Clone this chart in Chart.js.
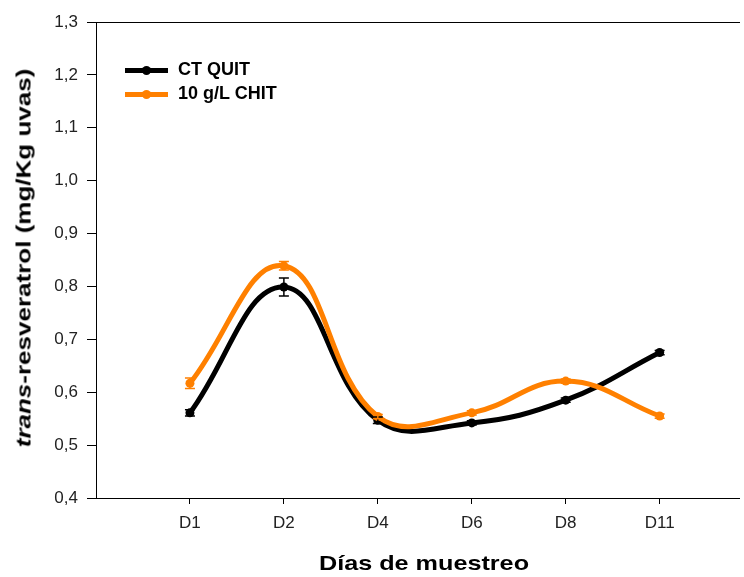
<!DOCTYPE html>
<html>
<head>
<meta charset="utf-8">
<script src="https://cdn.jsdelivr.net/npm/chart.js@4.4.1/dist/chart.umd.min.js"></script>
<style>
  body { margin: 0; background: #fff; }
  #wrap { position: relative; width: 744px; height: 577px; font-family: "Liberation Sans", Arial, sans-serif; }
  #chart { position: absolute; left: 0; top: 0; }
  .ytitle {
    position: absolute; left: 24px; top: 258px; white-space: nowrap;
    font-weight: bold; font-size: 20px; color: #000;
    transform: translate(-50%, -50%) rotate(-90deg) scaleX(1.3);
  }
  .xtitle {
    position: absolute; left: 424px; top: 563px; white-space: nowrap;
    font-weight: bold; font-size: 21px; color: #000;
    transform: translate(-50%, -50%) scaleX(1.2);
  }
  .legend { position: absolute; left: 125px; top: 58px; }
  .legend .row { position: relative; height: 24px; }
  .legend .ln { position: absolute; left: 0; top: 10px; width: 43px; height: 5px; }
  .legend .dot { position: absolute; left: 17px; top: 8px; width: 9px; height: 9px; border-radius: 50%; }
  .legend .lb { position: absolute; left: 53px; top: 1px; font-weight: bold; font-size: 18px; white-space: nowrap; }
</style>
</head>
<body>
<div id="wrap">
  <canvas id="chart" width="744" height="577"></canvas>
  <div class="ytitle"><i>trans</i>-resveratrol (mg/Kg uvas)</div>
  <div class="xtitle">Días de muestreo</div>
  <div class="legend" id="legend"></div>
</div>
<script>
// ── Data ──
const days = ['D1', 'D2', 'D4', 'D6', 'D8', 'D11'];
const dayPos = [1, 2, 3, 4, 5, 6];
const ctQuit = [0.561, 0.799, 0.547, 0.542, 0.585, 0.675];
const ctQuitErr = [0.006, 0.017, 0.006, 0.004, 0.004, 0.004];
const chit = [0.617, 0.839, 0.554, 0.561, 0.621, 0.555];
const chitErr = [0.010, 0.008, 0.004, 0.004, 0.004, 0.004];
const yTicks = [0.4, 0.5, 0.6, 0.7, 0.8, 0.9, 1.0, 1.1, 1.2, 1.3];

const BLACK = '#000000';
const ORANGE = '#ff8000';

const series = [
  { label: 'CT QUIT', values: ctQuit, err: ctQuitErr, color: BLACK, order: 2 },
  { label: '10 g/L CHIT', values: chit, err: chitErr, color: ORANGE, order: 1 },
];

// ── Legend (html) ──
document.getElementById('legend').innerHTML = series.map(s => `
  <div class="row">
    <div class="ln" style="background:${s.color}"></div>
    <div class="dot" style="background:${s.color}"></div>
    <div class="lb">${s.label}</div>
  </div>`).join('');

// ── Error bars ──
const errorBars = {
  id: 'errorBars',
  afterDatasetsDraw(chart) {
    const { ctx, scales: { x, y } } = chart;
    ctx.save();
    ctx.lineWidth = 1.5;
    chart.data.datasets.forEach(ds => {
      ctx.strokeStyle = ds.borderColor;
      ds.data.forEach((p, i) => {
        const px = x.getPixelForValue(p.x);
        const top = y.getPixelForValue(p.y + ds.err[i]);
        const bot = y.getPixelForValue(p.y - ds.err[i]);
        ctx.beginPath();
        ctx.moveTo(px, top); ctx.lineTo(px, bot);
        ctx.moveTo(px - 5, top); ctx.lineTo(px + 5, top);
        ctx.moveTo(px - 5, bot); ctx.lineTo(px + 5, bot);
        ctx.stroke();
      });
    });
    ctx.restore();
  }
};

Chart.defaults.font.family = '"Liberation Sans", Arial, sans-serif';
Chart.defaults.color = '#222';

new Chart(document.getElementById('chart'), {
  type: 'line',
  data: {
    datasets: series.map(s => ({
      label: s.label,
      data: s.values.map((v, i) => ({ x: dayPos[i], y: v })),
      err: s.err,
      borderColor: s.color,
      backgroundColor: s.color,
      borderWidth: 5,
      tension: 0.42,
      pointRadius: 4.5,
      pointHoverRadius: 4.5,
      pointBorderWidth: 0,
      order: s.order,
    }))
  },
  options: {
    responsive: false,
    animation: false,
    layout: { padding: { left: 0, right: 0, top: 22, bottom: 0 } },
    plugins: { legend: { display: false }, tooltip: { enabled: false } },
    scales: {
      x: {
        type: 'linear', min: 0, max: 6.85,
        afterBuildTicks: scale => { scale.ticks = dayPos.map(v => ({ value: v })); },
        afterFit: scale => { scale.height = 79; },
        ticks: { callback: v => days[dayPos.indexOf(v)] || '', font: { size: 17 }, padding: 9, maxRotation: 0 },
        grid: { drawOnChartArea: false, tickLength: 6, color: BLACK, lineWidth: 1 },
        border: { color: BLACK, width: 1 },
      },
      xTop: {
        type: 'linear', position: 'top', min: 0, max: 6.85,
        ticks: { display: false },
        grid: { display: false, drawTicks: false },
        border: { color: BLACK, width: 1 },
        afterFit: scale => { scale.height = 0; },
      },
      y: {
        min: 0.4, max: 1.3,
        afterBuildTicks: scale => { scale.ticks = yTicks.map(v => ({ value: v })); },
        afterFit: scale => { scale.width = 96; },
        ticks: { callback: v => v.toFixed(1).replace('.', ','), font: { size: 17 }, padding: 9 },
        grid: { drawOnChartArea: false, tickLength: 9, color: BLACK, lineWidth: 1 },
        border: { color: BLACK, width: 1 },
      }
    }
  },
  plugins: [errorBars]
});
</script>
</body>
</html>
